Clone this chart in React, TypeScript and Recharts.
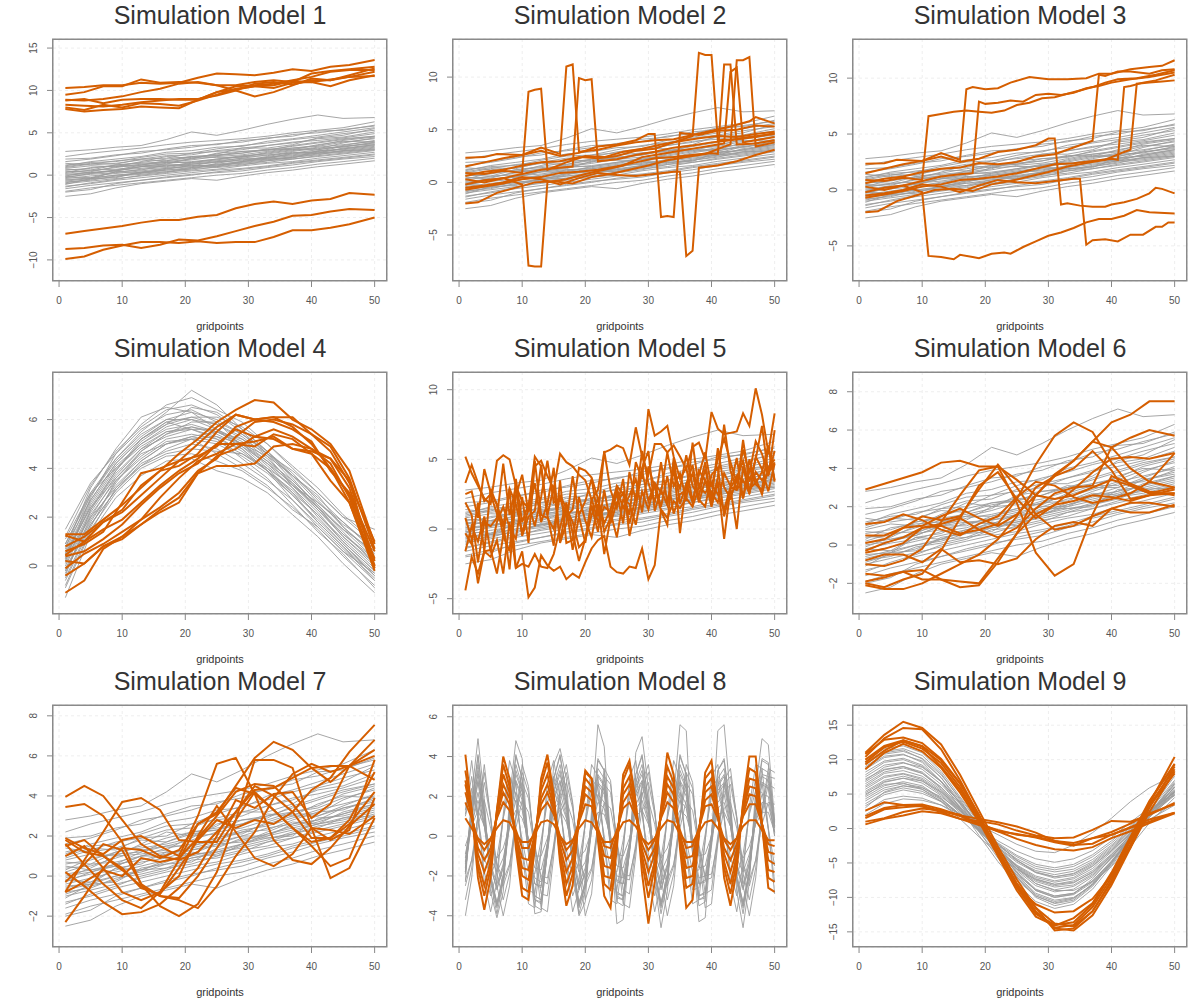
import { LineChart, Line, XAxis, YAxis, CartesianGrid } from "recharts";

// gridpoints
const gridAll = [
  1, 2, 3, 4, 5, 6, 7, 8, 9, 10, 11, 12, 13, 14, 15, 16, 17, 18, 19, 20, 21, 22, 23, 24, 25,
  26, 27, 28, 29, 30, 31, 32, 33, 34, 35, 36, 37, 38, 39, 40, 41, 42, 43, 44, 45, 46, 47, 48, 49, 50,
];
const gridSparse = [1, 5, 9, 13, 17, 21, 25, 29, 33, 37, 41, 45, 50];
const gridMid = [1, 4, 7, 10, 13, 16, 19, 22, 25, 28, 31, 34, 37, 40, 43, 46, 50];
const xTicks = [0, 10, 20, 30, 40, 50];

// grey reference curves shared by models 1, 2, 3, 5, 6, 7 (on gridSparse)
const baseGrey = [
  [2.8, 3.0, 3.3, 3.5, 4.2, 5.1, 4.7, 5.3, 6.0, 6.6, 7.1, 6.7, 6.8],
  [2.2, 2.6, 2.9, 3.2, 3.6, 3.9, 4.1, 4.3, 4.6, 5.0, 5.3, 5.6, 6.3],
  [1.6, 1.9, 2.3, 2.8, 3.0, 3.3, 3.7, 3.9, 4.4, 4.6, 5.2, 5.3, 5.9],
  [1.2, 1.5, 1.6, 2.1, 2.5, 2.6, 3.1, 3.5, 3.8, 4.2, 4.5, 4.9, 5.3],
  [0.9, 1.3, 1.7, 1.9, 2.0, 2.6, 2.8, 3.0, 3.5, 3.9, 4.1, 4.4, 4.9],
  [0.6, 0.8, 1.2, 1.5, 1.9, 2.2, 2.3, 2.8, 3.0, 3.4, 3.8, 4.2, 4.6],
  [0.4, 0.5, 0.9, 1.3, 1.5, 1.8, 2.2, 2.4, 2.8, 3.2, 3.4, 3.9, 4.3],
  [0.2, 0.6, 0.7, 1.0, 1.4, 1.6, 1.9, 2.3, 2.5, 2.9, 3.3, 3.6, 4.0],
  [0.0, 0.2, 0.6, 0.8, 1.1, 1.4, 1.7, 2.0, 2.4, 2.6, 3.0, 3.4, 3.8],
  [-0.2, 0.1, 0.3, 0.7, 0.9, 1.3, 1.5, 1.8, 2.1, 2.5, 2.8, 3.1, 3.5],
  [-0.4, -0.1, 0.2, 0.5, 0.8, 1.0, 1.3, 1.6, 2.0, 2.3, 2.6, 2.9, 3.3],
  [-0.6, -0.3, 0.0, 0.2, 0.6, 0.9, 1.2, 1.4, 1.7, 2.1, 2.5, 2.7, 3.1],
  [-0.8, -0.6, -0.1, 0.1, 0.4, 0.6, 1.0, 1.3, 1.5, 1.9, 2.2, 2.5, 2.9],
  [-1.0, -0.7, -0.4, -0.1, 0.2, 0.5, 0.7, 1.1, 1.4, 1.6, 2.0, 2.3, 2.7],
  [-1.3, -1.0, -0.6, -0.3, 0.0, 0.3, 0.6, 0.8, 1.1, 1.5, 1.8, 2.1, 2.5],
  [-1.6, -1.2, -0.9, -0.6, -0.2, 0.1, 0.3, 0.5, 0.9, 1.2, 1.6, 1.9, 2.2],
  [-1.9, -1.5, -1.2, -0.9, -0.6, -0.3, 0.0, 0.2, 0.6, 0.9, 1.3, 1.6, 2.0],
  [-2.5, -2.2, -1.5, -1.0, -0.7, -0.4, -0.6, -0.1, 0.3, 0.6, 1.0, 1.3, 1.7],
  [0.8, 1.1, 1.0, 1.6, 2.2, 2.0, 2.5, 3.2, 3.2, 3.6, 4.4, 4.7, 5.5],
  [-0.1, 0.4, 1.0, 1.1, 1.3, 2.0, 2.1, 2.1, 2.7, 3.1, 3.1, 3.8, 4.4],
  [1.4, 1.2, 1.4, 1.8, 1.7, 2.2, 2.4, 2.6, 3.1, 3.0, 3.6, 4.0, 3.9],
  [-1.1, -0.4, -0.3, 0.4, 0.6, 0.7, 1.4, 1.9, 1.9, 2.1, 2.4, 2.9, 3.0],
  [0.5, 0.3, 0.5, 1.0, 1.2, 1.3, 1.6, 1.7, 2.2, 2.7, 2.6, 3.2, 3.6],
  [-0.5, -0.4, 0.4, 0.3, 0.7, 1.2, 1.0, 1.6, 1.9, 2.0, 2.9, 3.0, 3.4],
  [1.9, 2.0, 2.4, 2.6, 3.1, 3.5, 3.6, 4.1, 4.3, 4.8, 5.0, 5.4, 5.8],
  [1.0, 1.4, 1.3, 1.9, 2.3, 2.4, 2.9, 3.2, 3.5, 3.8, 4.3, 4.5, 5.1],
  [0.3, 0.9, 1.1, 1.2, 1.7, 2.1, 2.3, 2.6, 3.0, 3.2, 3.5, 4.1, 4.5],
  [-0.3, 0.2, 0.5, 1.0, 1.0, 1.5, 1.9, 2.2, 2.3, 2.8, 3.2, 3.3, 3.9],
  [-0.7, -0.4, 0.0, 0.3, 0.8, 1.1, 1.2, 1.6, 2.1, 2.4, 2.7, 3.1, 3.6],
  [-1.4, -0.9, -0.5, 0.0, 0.3, 0.8, 0.9, 1.2, 1.7, 1.9, 2.3, 2.6, 3.0],
  [-2.0, -1.7, -1.0, -0.6, -0.3, 0.0, 0.4, 0.7, 1.0, 1.4, 1.7, 2.0, 2.4],
  [0.7, 0.6, 1.2, 1.4, 1.6, 1.9, 2.6, 2.8, 2.9, 3.5, 3.9, 4.3, 4.6],
  [0.1, 0.3, 0.6, 1.2, 1.5, 1.5, 1.8, 2.2, 2.6, 3.0, 3.0, 3.5, 4.1],
  [-0.9, -0.5, -0.2, 0.3, 0.4, 0.9, 1.1, 1.5, 1.8, 2.2, 2.6, 2.8, 3.2],
  [1.1, 1.6, 1.9, 2.2, 2.7, 2.9, 3.3, 3.4, 4.0, 4.3, 4.7, 5.1, 5.6],
  [-0.2, -0.3, 0.4, 0.6, 1.2, 1.1, 1.6, 2.0, 2.0, 2.6, 2.8, 3.4, 3.7],
];

// model 1 outliers (gridMid)
const model1Orange = [
  [10.3, 10.4, 10.6, 10.6, 10.9, 10.8, 10.9, 11.5, 12.0, 11.9, 11.8, 12.1, 12.5, 12.3, 12.8, 13.0, 13.6],
  [9.5, 9.8, 10.5, 10.5, 11.3, 10.9, 11.0, 10.9, 10.6, 10.6, 11.0, 11.2, 11.0, 12.0, 12.3, 12.5, 12.8],
  [8.9, 8.8, 9.0, 9.3, 9.8, 10.2, 10.8, 11.0, 10.6, 10.0, 9.3, 9.8, 10.6, 11.4, 11.2, 11.8, 12.6],
  [8.8, 9.0, 8.5, 8.9, 9.0, 9.0, 8.9, 8.9, 9.8, 10.5, 10.6, 10.8, 11.2, 11.6, 12.2, 12.4, 12.4],
  [8.3, 8.2, 8.1, 8.3, 8.6, 8.8, 9.0, 9.0, 9.4, 10.0, 10.8, 11.0, 10.7, 11.2, 11.2, 11.6, 12.2],
  [8.0, 7.7, 8.3, 8.0, 8.5, 8.4, 8.2, 8.8, 9.5, 10.2, 10.5, 10.3, 10.9, 11.0, 10.5, 11.2, 11.8],
  [7.8, 7.5, 7.7, 7.8, 8.1, 8.0, 7.9, 8.9, 9.8, 10.1, 10.5, 10.6, 11.1, 11.0, 11.3, 11.6, 11.7],
  [-6.9, -6.6, -6.3, -6.0, -5.6, -5.3, -5.3, -4.9, -4.7, -3.9, -3.4, -3.1, -3.4, -3.0, -2.8, -2.1, -2.3],
  [-8.7, -8.6, -8.3, -8.2, -8.6, -8.2, -7.6, -7.7, -7.2, -6.6, -6.0, -5.5, -4.8, -4.7, -4.3, -4.0, -4.1],
  [-9.9, -9.6, -8.8, -8.3, -7.9, -7.9, -8.0, -7.8, -8.0, -7.9, -7.9, -7.3, -6.5, -6.5, -6.2, -5.8, -5.0],
];

// model 2 outliers: [gridpoint, value]
const model2Orange = [
  [[1, 2.35], [4, 2.4], [6, 2.7], [10, 2.6], [13, 3.3], [16, 2.7], [17, 11.0], [18, 11.2], [19, 2.9], [22, 3.1], [25, 3.5], [28, 3.8], [31, 4.0], [34, 4.1], [37, 4.5], [40, 4.9], [43, 5.3], [46, 5.8], [47, 6.2], [50, 5.6]],
  [[1, 0.9], [4, 0.8], [7, 1.1], [10, 0.9], [11, 8.6], [12, 8.8], [13, 8.9], [14, 1.2], [17, 1.9], [20, 2.5], [23, 2.4], [26, 2.9], [29, 3.2], [32, 3.6], [35, 3.9], [38, 4.2], [41, 4.4], [44, 4.3], [47, 4.6], [50, 4.8]],
  [[1, 0.3], [4, 0.0], [7, 0.4], [10, -0.2], [11, -7.9], [12, -8.0], [13, -8.0], [14, 0.0], [17, 0.3], [20, 0.8], [23, 1.2], [26, 1.6], [29, 2.4], [32, 2.7], [35, 3.0], [38, 3.3], [41, 3.6], [42, 3.7], [43, 10.5], [44, 10.9], [45, 3.8], [47, 4.0], [50, 4.3]],
  [[1, -0.2], [4, 0.2], [7, 0.4], [10, 0.8], [13, 1.2], [16, 1.4], [18, 1.5], [19, 9.9], [20, 9.7], [21, 9.8], [22, 2.0], [25, 2.2], [28, 2.6], [31, 2.9], [34, 3.3], [37, 3.5], [40, 3.8], [43, 4.0], [46, 4.3], [50, 4.6]],
  [[1, 1.5], [4, 1.9], [7, 2.3], [10, 2.6], [13, 3.0], [16, 2.5], [19, 2.8], [22, 3.4], [25, 3.6], [28, 4.0], [30, 4.6], [31, 4.6], [32, -3.3], [33, -3.2], [34, -3.3], [35, 4.7], [38, 4.5], [41, 4.9], [44, 5.0], [47, 5.4], [50, 5.3]],
  [[1, -0.5], [4, -0.3], [7, 0.0], [10, 0.5], [13, 0.3], [16, -0.2], [19, 0.4], [22, 0.9], [25, 0.7], [28, 0.6], [31, 0.8], [34, 1.0], [35, 1.0], [36, -7.0], [37, -6.5], [38, 1.4], [41, 1.6], [44, 2.0], [47, 2.6], [50, 3.1]],
  [[1, 0.6], [4, 1.0], [7, 1.2], [10, 1.6], [13, 1.9], [16, 2.0], [19, 2.4], [22, 2.3], [25, 2.5], [28, 3.0], [31, 3.2], [34, 3.8], [37, 4.4], [38, 12.3], [39, 12.1], [40, 12.1], [41, 4.0], [44, 4.1], [47, 4.3], [50, 4.7]],
  [[1, -0.7], [4, -0.4], [7, -0.1], [10, 0.3], [13, 0.5], [16, 0.9], [19, 1.0], [22, 1.2], [25, 1.5], [28, 1.9], [31, 2.3], [34, 2.4], [37, 2.6], [40, 2.8], [41, 2.7], [42, 11.2], [43, 11.2], [44, 3.6], [47, 3.7], [50, 4.0]],
  [[1, -2.0], [3, -1.9], [6, -1.0], [9, -0.5], [12, 0.0], [15, 0.1], [18, -0.1], [21, 0.5], [24, 0.8], [27, 1.2], [30, 1.6], [33, 2.1], [36, 2.4], [39, 2.7], [42, 3.4], [43, 3.6], [44, 11.6], [45, 11.6], [46, 11.9], [47, 3.4], [50, 3.8]],
];

// model 3 outliers: [gridpoint, value]
const model3Orange = [
  [[1, 2.35], [4, 2.4], [6, 2.7], [10, 2.6], [13, 3.3], [16, 2.7], [17, 9.0], [18, 9.2], [20, 9.0], [22, 9.1], [24, 9.6], [27, 10.1], [30, 9.9], [33, 9.9], [36, 10.0], [38, 10.4], [40, 10.4], [43, 10.8], [46, 11.0], [48, 11.1], [50, 11.6]],
  [[1, 0.9], [4, 0.8], [7, 1.1], [10, 0.9], [11, 6.6], [13, 6.8], [15, 7.0], [17, 7.1], [19, 7.0], [21, 6.9], [23, 7.1], [25, 7.6], [27, 7.8], [29, 8.2], [31, 8.3], [33, 8.6], [35, 8.9], [37, 9.2], [39, 9.6], [41, 9.9], [44, 10.0], [47, 10.3], [50, 10.7]],
  [[1, 0.3], [4, 0.0], [7, 0.4], [10, -0.2], [11, -5.9], [13, -6.0], [15, -6.2], [16, -5.8], [18, -6.0], [19, -6.1], [21, -5.7], [23, -5.6], [24, -5.7], [26, -5.1], [28, -4.6], [30, -4.1], [32, -3.8], [34, -3.4], [36, -2.9], [38, -2.6], [40, -2.6], [42, -2.3], [44, -1.8], [46, -2.0], [50, -2.1]],
  [[1, -0.2], [4, 0.2], [7, 0.4], [10, 0.8], [13, 1.2], [16, 1.4], [18, 1.5], [19, 7.9], [20, 7.7], [22, 7.8], [24, 8.0], [26, 7.9], [28, 8.5], [30, 8.6], [32, 8.5], [34, 8.7], [36, 9.1], [38, 9.3], [40, 9.6], [43, 9.9], [46, 10.1], [50, 10.5]],
  [[1, 1.5], [4, 1.9], [7, 2.3], [10, 2.6], [13, 3.0], [16, 2.5], [19, 2.8], [22, 3.4], [25, 3.6], [28, 4.0], [30, 4.6], [31, 4.6], [32, -1.3], [33, -1.2], [35, -1.4], [37, -1.5], [39, -1.5], [40, -1.3], [42, -1.1], [44, -0.8], [46, -0.3], [47, 0.2], [48, 0.1], [50, -0.3]],
  [[1, -0.5], [4, -0.3], [7, 0.0], [10, 0.5], [13, 0.3], [16, -0.2], [19, 0.4], [22, 0.9], [25, 0.7], [28, 0.6], [31, 0.8], [34, 1.0], [35, 1.0], [36, -4.9], [37, -4.5], [39, -4.4], [41, -4.6], [43, -4.0], [45, -4.0], [47, -3.3], [48, -3.3], [49, -2.9], [50, -2.9]],
  [[1, 0.6], [4, 1.0], [7, 1.2], [10, 1.6], [13, 1.9], [16, 2.0], [19, 2.4], [22, 2.3], [25, 2.5], [28, 3.0], [31, 3.2], [34, 3.8], [37, 4.4], [38, 10.3], [39, 10.2], [41, 10.6], [43, 10.6], [46, 10.4], [48, 10.7], [50, 10.8]],
  [[1, -0.7], [4, -0.4], [7, -0.1], [10, 0.3], [13, 0.5], [16, 0.9], [19, 1.0], [22, 1.2], [25, 1.5], [28, 1.9], [31, 2.3], [34, 2.4], [37, 2.6], [40, 2.8], [41, 2.7], [42, 9.2], [43, 9.3], [45, 9.6], [47, 9.8], [50, 10.3]],
  [[1, -2.0], [3, -1.9], [6, -1.0], [9, -0.5], [12, 0.0], [15, 0.1], [18, -0.1], [21, 0.5], [24, 0.8], [27, 1.2], [30, 1.6], [33, 2.1], [36, 2.4], [39, 2.7], [42, 3.4], [43, 3.6], [44, 9.5], [46, 9.6], [48, 9.7], [50, 9.8]],
];

// model 4 (gridSparse grey, gridMid orange)
const model4Grey = [
  [1.5, 3.4, 4.6, 5.8, 6.6, 6.9, 6.4, 5.9, 5.0, 4.0, 3.0, 2.0, 1.5],
  [0.9, 3.0, 4.4, 5.5, 6.3, 7.2, 6.6, 5.6, 4.7, 3.7, 2.6, 1.7, 0.8],
  [0.6, 2.9, 4.3, 5.3, 6.0, 6.3, 6.0, 5.4, 4.6, 3.7, 2.9, 1.6, 0.4],
  [0.4, 2.6, 4.1, 5.0, 5.7, 6.0, 5.8, 5.3, 4.5, 3.3, 2.4, 1.5, 0.3],
  [0.3, 2.5, 4.0, 4.9, 5.5, 5.7, 5.4, 4.9, 4.2, 3.4, 2.3, 1.3, 0.2],
  [0.1, 2.2, 3.7, 4.8, 5.3, 5.6, 5.6, 5.1, 4.3, 3.5, 2.5, 1.4, 0.1],
  [0.0, 2.1, 3.5, 4.5, 5.2, 5.4, 5.2, 4.8, 3.9, 3.0, 2.1, 1.1, -0.1],
  [-0.2, 1.9, 3.3, 4.3, 5.0, 5.2, 5.0, 4.5, 3.8, 2.9, 1.9, 0.9, -0.3],
  [-0.5, 1.7, 3.1, 4.2, 4.7, 5.0, 4.8, 4.2, 3.5, 2.7, 1.7, 0.7, -0.5],
  [-0.8, 1.5, 3.0, 4.0, 4.5, 4.6, 4.3, 3.9, 3.2, 2.4, 1.5, 0.4, -0.8],
  [-1.3, 1.3, 2.8, 3.7, 4.3, 4.4, 3.9, 3.6, 3.0, 2.1, 1.2, 0.1, -1.1],
  [0.7, 3.2, 4.8, 6.1, 6.5, 6.3, 5.6, 4.8, 3.9, 2.7, 1.6, 0.6, -0.6],
  [0.2, 2.8, 4.6, 5.6, 6.2, 6.4, 5.9, 4.9, 4.0, 3.0, 1.8, 0.8, -0.4],
  [-0.4, 2.3, 3.9, 5.2, 5.9, 5.6, 5.2, 4.4, 3.6, 2.5, 1.4, 0.5, -0.9],
  [0.5, 2.4, 3.6, 4.6, 5.0, 5.3, 5.5, 5.2, 4.6, 3.9, 3.0, 2.0, 0.9],
  [-0.1, 1.8, 3.4, 4.7, 5.4, 5.9, 5.9, 5.4, 4.7, 3.8, 2.7, 1.6, 0.5],
  [1.1, 3.0, 4.0, 5.0, 5.6, 5.8, 5.5, 5.0, 4.1, 3.2, 2.2, 1.0, -0.2],
  [0.3, 2.0, 3.2, 4.1, 4.6, 4.8, 4.7, 4.6, 4.0, 3.3, 2.6, 1.8, 0.6],
  [-0.6, 1.6, 3.5, 4.4, 5.1, 5.2, 4.6, 4.0, 3.3, 2.3, 1.6, 0.6, -0.3],
  [0.8, 2.7, 4.2, 5.2, 5.8, 6.1, 6.1, 5.7, 5.0, 4.1, 3.2, 2.1, 1.0],
  [1.2, 3.3, 4.7, 5.7, 6.4, 6.6, 6.2, 5.5, 4.6, 3.5, 2.5, 1.5, 0.6],
  [0.5, 2.7, 4.2, 5.2, 5.9, 6.1, 5.8, 5.2, 4.4, 3.4, 2.4, 1.3, 0.3],
  [-0.3, 2.0, 3.6, 4.7, 5.4, 5.7, 5.5, 5.0, 4.3, 3.3, 2.3, 1.2, 0.0],
  [0.2, 2.3, 3.8, 4.8, 5.5, 5.6, 5.3, 4.7, 3.9, 2.9, 1.8, 0.8, -0.6],
  [-0.9, 1.4, 3.2, 4.3, 5.0, 5.3, 5.1, 4.6, 3.9, 3.1, 2.1, 1.0, -0.2],
  [0.9, 2.9, 4.4, 5.4, 6.0, 6.0, 5.6, 5.0, 4.2, 3.2, 2.0, 0.9, -0.4],
  [-0.2, 1.7, 3.1, 4.1, 4.8, 5.2, 5.3, 5.0, 4.5, 3.7, 2.8, 1.8, 0.7],
  [0.4, 2.4, 3.9, 5.1, 5.8, 6.5, 6.3, 5.6, 4.7, 3.6, 2.4, 1.2, 0.1],
];
const model4Orange = [
  [1.3, 1.3, 1.9, 2.5, 3.2, 3.9, 4.6, 5.2, 5.9, 6.4, 6.8, 6.7, 6.0, 5.6, 5.0, 3.9, 0.9],
  [1.25, 1.0, 1.8, 2.2, 2.9, 3.6, 4.3, 5.0, 5.7, 6.2, 6.0, 6.1, 6.1, 5.4, 4.7, 3.4, 1.0],
  [0.8, 1.2, 1.8, 2.3, 3.3, 3.9, 4.1, 4.6, 5.5, 6.2, 6.0, 6.1, 5.7, 5.0, 4.0, 2.9, 0.3],
  [0.6, 0.9, 1.4, 2.6, 3.8, 4.0, 4.3, 4.5, 4.9, 5.7, 6.0, 5.9, 5.6, 5.1, 3.9, 3.0, 0.6],
  [0.45, 1.0, 1.5, 1.9, 2.6, 3.3, 3.9, 4.4, 5.0, 5.6, 5.3, 5.6, 5.3, 4.8, 4.2, 2.8, 0.0],
  [0.4, 0.6, 1.1, 1.7, 2.5, 3.2, 3.8, 4.2, 5.0, 5.0, 4.9, 5.4, 5.2, 4.6, 4.0, 2.6, -0.2],
  [0.2, 0.1, 0.8, 1.2, 1.9, 2.4, 3.0, 3.9, 4.4, 5.3, 5.9, 6.0, 5.8, 5.4, 4.9, 3.6, 0.7],
  [-0.1, 0.5, 0.9, 1.4, 1.9, 2.8, 3.6, 4.3, 4.6, 5.0, 5.1, 5.3, 4.8, 4.7, 4.4, 3.2, 0.2],
  [-0.4, 0.1, 0.8, 1.1, 1.7, 2.3, 2.8, 3.8, 4.5, 4.8, 5.3, 5.2, 4.8, 4.6, 3.5, 2.6, 0.0],
  [-1.1, -0.6, 0.7, 1.2, 1.7, 2.2, 2.6, 3.8, 4.1, 4.1, 4.2, 4.9, 5.0, 4.8, 4.4, 3.5, -0.1],
];

// model 5 outliers (gridAll)
const model5Orange = [
  [5.2, 4.0, 3.1, 2.2, 1.8, 4.9, 5.3, 5.0, 3.1, 2.0,
    1.5, 4.5, 4.9, 3.8, 2.9, 5.4, 4.8, 4.5, 3.9, 3.5,
    2.1, 2.8, 5.5, 5.7, 6.0, 5.8, 4.6, 7.3, 5.2, 3.9,
    6.1, 6.1, 5.5, 6.0, 5.2, 4.3, 5.9, 6.2, 5.0, 8.4,
    7.2, 6.8, 6.9, 7.0, 8.3, 7.4, 10.1, 8.2, 5.5, 8.3],
  [-4.4, -2.0, -3.2, -1.6, -2.0, -0.8, -3.2, 0.5, -2.8, -1.6,
    -4.9, -4.2, -1.9, -2.6, -3.0, -2.7, -3.6, -3.2, -3.5, -2.4,
    -1.4, -0.8, -0.5, -2.7, -3.1, -3.2, -2.7, -2.8, -1.4, -3.6,
    -2.6, 1.4, 0.8, 2.0, 1.5, 2.2, 1.6, 3.0, 2.6, 3.2,
    2.5, 1.4, 3.0, 2.8, 3.5, 2.6, 4.1, 3.5, 4.0, 4.8],
  [3.3, 4.6, 3.3, 2.0, 2.5, 1.1, 0.2, 2.9, 1.8, -0.3,
    1.5, 5.2, 4.5, 1.0, 3.0, -0.9, 1.5, 0.5, -1.3, -0.8,
    1.0, 2.2, 0.4, 1.4, 3.1, 2.5, 1.0, 4.8, 3.6, 8.6,
    6.7, 7.0, 7.4, 5.2, 3.6, 4.4, 2.0, 3.9, 5.5, 3.0,
    5.0, 6.5, 4.8, 3.3, 5.7, 4.0, 6.3, 5.4, 3.8, 7.1],
  [2.5, 2.7, 0.8, 4.3, 2.6, 1.8, -0.5, -1.6, 3.6, 0.5,
    1.8, 0.2, 2.3, 4.9, 1.9, 2.2, 0.9, 1.4, 4.4, 4.2,
    3.7, 2.2, -0.2, 0.8, 2.6, 0.4, 4.1, 2.0, 5.6, 3.3,
    1.9, 4.8, 1.9, 4.1, 2.9, 5.3, 3.1, 2.4, 4.3, 2.1,
    5.8, 3.0, 2.2, 3.6, 4.9, 2.9, 3.3, 4.1, 6.0, 3.5],
  [1.9, 1.0, -2.4, 0.5, 0.2, 0.8, 4.7, 1.0, 3.0, -0.5,
    0.9, 1.3, 4.6, 1.0, -1.2, 3.5, -1.0, -0.8, 2.3, 0.6,
    -0.6, 1.8, -1.8, 0.8, 2.9, 1.5, 2.4, 3.6, 1.2, 4.5,
    3.0, 1.3, 0.3, 5.1, 1.8, 3.2, 4.6, 2.1, 1.6, 3.9,
    4.4, 0.9, 2.9, 0.0, 4.5, 2.5, 5.2, 4.3, 2.7, 4.7],
  [0.8, -0.7, -3.9, -1.6, -1.5, -3.2, -0.5, 2.9, -2.8, -2.5,
    -2.7, -1.8, -2.7, -2.8, -1.8, 0.1, 1.9, -0.3, -2.3, -0.7,
    1.7, -0.2, 2.8, 0.4, 1.9, 2.6, 0.4, 2.3, 4.4, 5.6,
    1.3, 2.8, 1.7, 4.8, -0.3, 3.3, 1.9, 4.2, 3.5, 1.6,
    3.4, -0.7, 2.9, 3.8, 2.2, 5.0, 3.2, 2.8, 5.9, 3.4],
  [-0.3, -1.1, 1.9, -1.6, 2.9, 1.7, 0.4, -2.9, 2.4, 3.9,
    1.2, 3.3, 0.5, 1.8, 4.4, -1.0, 0.4, 3.8, 1.0, 2.0,
    3.6, 0.9, 5.6, 2.8, 1.5, 3.6, -0.5, 1.6, 4.2, 2.0,
    3.3, 2.6, 5.5, 3.1, 4.0, 2.1, 6.2, 2.9, 4.8, 1.8,
    3.7, 7.5, 4.2, 2.8, 6.4, 3.4, 5.0, 7.4, 3.9, 5.6],
  [-1.6, 0.2, -0.9, 0.9, -1.6, 0.5, 1.6, 0.1, -0.7, 2.3,
    -1.0, 4.9, 1.0, 0.8, 0.0, 2.4, 1.5, -1.5, 0.9, -1.0,
    2.2, 0.5, 1.6, 1.2, -0.6, 2.1, 1.8, 0.3, 2.7, 1.4,
    3.3, 1.6, 3.8, 1.1, 2.5, 2.8, 4.0, 1.9, 3.5, 2.6,
    1.9, 4.0, 3.1, 5.1, 2.2, 4.3, 3.6, 2.5, 4.4, 5.0],
];

// model 6 outliers (gridMid)
const model6Orange = [
  [2.9, 3.2, 3.5, 3.8, 4.3, 4.4, 4.1, 4.1, 3.4, 2.6, 2.4, 2.6, 3.0, 3.4, 3.1, 2.7, 2.7],
  [0.5, 0.5, 0.9, 1.0, 1.5, 1.9, 1.4, 1.0, 1.6, 2.6, 3.6, 4.4, 5.4, 6.4, 6.8, 7.5, 7.5],
  [-0.3, 0.1, 0.4, 0.9, 1.0, 0.6, 0.8, 1.1, 2.4, 4.2, 5.7, 6.4, 5.9, 4.3, 3.1, 2.7, 3.0],
  [-1.0, -1.1, -0.8, -0.2, 1.2, 2.6, 3.9, 4.1, 2.2, -0.4, -1.6, -1.0, 1.6, 3.6, 3.2, 2.8, 2.6],
  [1.1, 1.2, 1.6, 1.3, 0.8, 0.5, 1.1, 1.5, 2.5, 3.3, 3.1, 2.5, 2.2, 2.4, 2.7, 3.3, 4.8],
  [-2.0, -2.2, -1.8, -1.5, -0.3, 1.4, 3.1, 3.8, 2.4, 1.4, 2.1, 2.9, 3.8, 4.5, 4.6, 4.5, 4.8],
  [-1.5, -1.6, -1.4, -1.8, -1.8, -1.9, -2.0, -0.7, 0.6, 2.6, 3.7, 4.4, 5.4, 5.1, 4.0, 3.3, 3.0],
  [-2.1, -2.3, -2.3, -2.0, -1.5, -1.0, -0.5, 0.3, 1.5, 3.0, 3.6, 4.0, 4.9, 3.9, 2.4, 2.6, 2.9],
  [-0.4, -0.2, 0.1, 0.9, 1.1, 1.4, 0.8, 0.4, 0.9, 1.9, 2.7, 3.0, 3.1, 5.1, 5.6, 6.0, 5.7],
  [0.1, 0.3, 0.9, 1.5, 1.3, 1.5, 2.9, 4.2, 3.0, 1.6, 0.8, 1.0, 1.5, 1.9, 1.7, 1.7, 2.1],
  [-0.8, -0.5, -0.5, -0.9, -0.2, -0.9, -0.8, -1.0, -0.7, 0.3, 1.0, 1.2, 1.0, 1.9, 2.2, 2.2, 2.0],
  [-1.9, -1.7, -1.4, -1.3, -1.8, -2.2, -2.1, -0.9, 0.6, 1.6, 2.1, 2.3, 2.6, 2.5, 2.3, 2.6, 2.7],
];

// model 7 outliers (gridMid)
const model7Orange = [
  [3.95, 4.5, 4.0, 2.8, 1.6, 1.0, 0.8, 1.2, 2.2, 3.2, 4.3, 4.4, 4.9, 5.4, 5.5, 5.5, 4.8],
  [3.45, 3.6, 3.0, 1.7, -0.4, -1.5, -2.0, -1.4, 0.2, 2.8, 5.8, 5.8, 5.4, 2.4, -0.1, 0.4, 2.9],
  [1.9, 1.4, 1.1, 1.8, 2.0, 1.5, 1.0, 3.0, 5.6, 5.9, 4.1, 1.8, 0.8, 0.6, 1.4, 2.5, 3.6],
  [-2.3, -1.0, 0.4, 1.4, 1.3, 0.9, 1.3, 2.6, 3.1, 4.5, 5.9, 6.7, 6.3, 5.4, 4.7, 5.5, 6.3],
  [1.5, 1.8, 1.0, 0.3, -0.5, -1.0, -1.1, 0.0, 1.4, 2.8, 4.2, 3.3, 2.4, 1.7, 1.9, 2.6, 4.2],
  [-0.3, 0.6, 1.6, 1.3, -0.4, -1.0, -1.2, -1.6, -0.5, 1.0, 2.2, 3.9, 5.1, 5.6, 5.2, 5.5, 6.0],
  [-0.8, 0.8, 2.2, 3.7, 3.9, 3.3, 1.8, 1.7, 1.7, 3.2, 4.5, 4.0, 3.2, 1.9, 1.9, 2.8, 5.2],
  [1.0, 1.5, 0.4, -0.8, -1.2, -0.8, 0.0, 2.0, 3.5, 2.2, 0.9, 0.5, 1.1, 2.4, 2.3, 2.1, 3.0],
  [1.8, 1.2, 1.0, 0.4, -0.6, -0.9, 0.4, 1.8, 2.8, 2.4, 2.8, 2.6, 3.2, 4.3, 4.9, 6.2, 7.55],
  [1.6, 0.6, -0.4, -1.2, -1.6, -0.8, 0.8, 2.6, 3.2, 4.4, 4.1, 3.3, 2.4, 1.5, 0.5, 0.9, 3.9],
  [0.2, -0.5, -1.3, -1.9, -1.8, -1.4, -0.6, 0.4, 2.0, 3.8, 3.4, 4.1, 4.2, 2.9, 3.6, 5.5, 6.8],
  [-0.8, -0.3, 0.3, 0.0, 0.9, 0.7, 0.9, 1.9, 3.0, 4.2, 4.6, 4.5, 3.6, 2.4, 1.8, 2.3, 5.8],
];

// model 8 (gridAll)
const model8Grey = [
  [-1.9, 1.5, 4.1, 1.3, -2.3, -3.9, -2.3, 1.3, 4.1, 2.9, -0.7, -3.5, -3.7, -0.7, 2.9, 4.1, 2.1, -1.5, -3.9, -2.7,
    0.9, 3.9, 3.3, -0.3, -3.3, -3.5, -0.7, 3.1, 4.1, 1.7, -1.9, -3.9, -2.3, 1.3, 4.1, 3.1, -0.7, -3.5, -3.3, -0.1,
    3.3, 3.9, 1.3, -2.3, -3.9, -1.9, 1.7, 3.9, 3.7, 0.5],
  [-2.3, 2.1, 4.9, 1.9, -2.8, -4.1, -2.8, 1.9, 4.8, 3.9, -0.7, -3.9, -3.8, -0.7, 3.6, 4.4, 2.9, -1.8, -4.0, -3.3,
    1.3, 5.6, 4.5, -0.2, -4.4, -4.2, -0.7, 4.2, 5.0, 2.4, -2.3, -4.6, -2.8, 1.9, 5.6, 5.3, -0.7, -4.3, -4.1, 0.0,
    5.3, 5.6, 1.9, -2.8, -4.6, -2.3, 2.4, 4.9, 4.6, 0.8],
  [-1.8, 1.1, 3.3, 0.9, -2.1, -3.5, -2.1, 0.9, 3.3, 2.3, -0.8, -3.2, -3.3, -0.8, 2.3, 3.3, 1.6, -1.5, -3.5, -2.5,
    0.6, 3.1, 2.6, -0.4, -3.0, -3.2, -0.8, 2.5, 3.3, 1.3, -1.8, -3.5, -2.1, 0.9, 3.3, 2.5, -0.8, -3.2, -3.0, -0.3,
    2.6, 3.1, 0.9, -2.1, -3.5, -1.8, 1.3, 3.1, 3.0, 0.2],
  [-1.3, 1.2, 3.1, 1.1, -1.5, -2.7, -1.5, 1.1, 3.1, 2.2, -0.4, -2.4, -2.6, -0.4, 2.2, 3.1, 1.7, -1.0, -2.7, -1.8,
    0.8, 3.0, 2.5, -0.1, -2.3, -2.4, -0.4, 2.4, 3.1, 1.4, -1.3, -2.7, -1.5, 1.1, 3.1, 2.4, -0.4, -2.4, -2.3, 0.1,
    2.5, 3.0, 1.1, -1.5, -2.7, -1.3, 1.4, 3.0, 2.8, 0.5],
  [-1.4, 0.6, 2.2, 0.5, -1.6, -2.6, -1.6, 0.5, 2.2, 1.5, -0.7, -2.4, -2.5, -0.7, 1.5, 2.2, 1.0, -1.2, -2.6, -1.9,
    0.3, 2.1, 1.7, -0.4, -2.2, -2.4, -0.7, 1.6, 2.2, 0.8, -1.4, -2.6, -1.6, 0.5, 2.2, 1.6, -0.7, -2.4, -2.2, -0.3,
    1.7, 2.1, 0.5, -1.6, -2.6, -1.4, 0.8, 2.1, 2.0, 0.0],
  [-0.9, 0.6, 1.8, 0.5, -1.1, -1.8, -1.1, 0.5, 1.8, 1.3, -0.4, -1.6, -1.7, -0.4, 1.3, 1.8, 0.9, -0.7, -1.8, -1.3,
    0.4, 1.7, 1.4, -0.2, -1.5, -1.6, -0.4, 1.4, 1.8, 0.7, -0.9, -1.8, -1.1, 0.5, 1.8, 1.4, -0.4, -1.6, -1.5, -0.1,
    1.4, 1.7, 0.5, -1.1, -1.8, -0.9, 0.7, 1.7, 1.6, 0.2],
  [-0.5, 0.5, 1.3, 0.5, -0.6, -1.1, -0.6, 0.5, 1.3, 0.9, -0.1, -1.0, -1.0, -0.1, 0.9, 1.3, 0.7, -0.4, -1.1, -0.7,
    0.3, 1.2, 1.1, 0.0, -0.9, -1.0, -0.1, 1.0, 1.3, 0.6, -0.5, -1.1, -0.6, 0.5, 1.3, 1.0, -0.1, -1.0, -0.9, 0.0,
    1.1, 1.2, 0.5, -0.6, -1.1, -0.5, 0.6, 1.2, 1.2, 0.2],
  [1.1, 3.0, 0.9, -1.8, -3.0, -1.8, 0.9, 3.0, 2.1, -0.6, -2.7, -2.9, -0.6, 2.1, 3.0, 1.5, -1.2, -3.0, -2.1, 0.6,
    2.9, 2.4, -0.3, -2.6, -2.7, -0.6, 2.3, 3.0, 1.2, -1.5, -3.0, -1.8, 0.9, 3.0, 2.3, -0.6, -2.7, -2.6, -0.2, 2.4,
    2.9, 0.9, -1.8, -3.0, -1.5, 1.2, 2.9, 2.7, 0.3, -2.3],
  [1.0, 2.4, 0.9, -1.1, -2.0, -1.1, 0.9, 2.4, 1.7, -0.2, -1.8, -1.9, -0.2, 1.7, 2.4, 1.3, -0.7, -2.0, -1.3, 0.6,
    2.3, 2.0, 0.0, -1.7, -1.8, -0.2, 1.9, 2.4, 1.1, -0.9, -2.0, -1.1, 0.9, 2.4, 1.9, -0.2, -1.8, -1.7, 0.1, 2.0,
    2.3, 0.9, -1.1, -2.0, -0.9, 1.1, 2.3, 2.2, 0.4, -1.5],
  [-3.2, -1.6, 1.1, 3.2, 1.0, -1.9, -3.2, -1.9, 1.0, 3.2, 2.2, -0.6, -2.9, -3.0, -0.6, 2.2, 3.2, 1.6, -1.3, -3.2,
    -2.2, 0.6, 3.0, 2.6, -0.3, -2.7, -2.9, -0.6, 2.4, 3.2, 1.3, -1.6, -3.2, -1.9, 1.0, 3.2, 2.4, -0.6, -2.9, -2.7,
    -0.2, 2.6, 3.0, 1.0, -1.9, -3.2, -1.6, 1.3, 3.0, 2.9],
  [-2.2, -1.2, 0.5, 1.8, 0.4, -1.4, -2.2, -1.4, 0.4, 1.8, 1.2, -0.6, -2.0, -2.1, -0.6, 1.2, 1.8, 0.8, -1.0, -2.2,
    -1.6, 0.2, 1.7, 1.4, -0.4, -1.9, -2.0, -0.6, 1.3, 1.8, 0.6, -1.2, -2.2, -1.4, 0.4, 1.8, 1.3, -0.6, -2.0, -1.9,
    -0.3, 1.4, 1.7, 0.4, -1.4, -2.2, -1.2, 0.6, 1.7, 1.6],
  [-1.6, 1.6, 4.0, 1.4, -1.9, -3.4, -1.9, 1.4, 4.0, 2.9, -0.4, -3.0, -3.2, -0.4, 2.9, 4.0, 2.2, -1.2, -3.4, -2.3,
    1.0, 3.8, 3.3, -0.1, -2.8, -3.0, -0.4, 3.1, 4.0, 1.8, -1.6, -3.4, -1.9, 1.4, 4.0, 3.1, -0.4, -3.0, -2.8, 0.1,
    3.3, 3.8, 1.4, -1.9, -3.4, -1.6, 1.8, 3.8, 3.6, 0.7],
  [-1.8, 1.3, 3.6, 1.1, -2.2, -3.6, -2.2, 1.1, 3.6, 2.5, -0.7, -3.2, -3.4, -0.7, 2.5, 3.6, 1.8, -1.4, -3.6, -2.5,
    0.7, 3.4, 2.9, -0.4, -3.1, -3.2, -0.7, 2.7, 3.6, 1.4, -1.8, -3.6, -2.2, 1.1, 3.6, 2.7, -0.7, -3.2, -3.1, -0.2,
    2.9, 3.4, 1.1, -2.2, -3.6, -1.8, 1.4, 3.4, 3.2, 0.4],
  [-1.1, 1.1, 2.8, 1.0, -1.4, -2.4, -1.4, 1.0, 2.8, 2.0, -0.3, -2.1, -2.3, -0.3, 2.0, 2.8, 1.5, -0.8, -2.4, -1.6,
    0.7, 2.7, 2.3, -0.1, -2.0, -2.1, -0.3, 2.2, 2.8, 1.2, -1.1, -2.4, -1.4, 1.0, 2.8, 2.2, -0.3, -2.1, -2.0, 0.1,
    2.3, 2.7, 1.0, -1.4, -2.4, -1.1, 1.2, 2.7, 2.5, 0.5],
  [-2.5, -1.2, 1.0, 2.7, 0.9, -1.5, -2.5, -1.5, 0.9, 2.7, 1.9, -0.4, -2.2, -2.4, -0.4, 1.9, 2.7, 1.4, -0.9, -2.5,
    -1.7, 0.6, 2.6, 2.2, -0.2, -2.1, -2.2, -0.4, 2.1, 2.7, 1.1, -1.2, -2.5, -1.5, 0.9, 2.7, 2.1, -0.4, -2.2, -2.1,
    0.0, 2.2, 2.6, 0.9, -1.5, -2.5, -1.2, 1.1, 2.6, 2.4],
  [1.3, 3.8, 1.1, -2.3, -3.8, -2.3, 1.1, 3.8, 2.7, -0.8, -3.4, -3.6, -0.8, 2.7, 3.8, 1.9, -1.5, -3.8, -2.7, 0.8,
    3.6, 3.0, -0.4, -3.2, -3.4, -0.8, 2.9, 3.8, 1.5, -1.9, -3.8, -2.3, 1.1, 3.8, 2.9, -0.8, -3.4, -3.2, -0.2, 3.0,
    3.6, 1.1, -2.3, -3.8, -1.9, 1.5, 3.6, 3.4, 0.4, -2.9],
  [-1.8, 0.8, 2.7, 0.6, -2.1, -3.3, -2.1, 0.6, 2.7, 1.8, -0.9, -3.0, -3.2, -0.9, 1.8, 2.7, 1.2, -1.5, -3.3, -2.4,
    0.3, 2.6, 2.1, -0.6, -2.9, -3.0, -0.9, 2.0, 2.7, 0.9, -1.8, -3.3, -2.1, 0.6, 2.7, 2.0, -0.9, -3.0, -2.9, -0.5,
    2.1, 2.6, 0.6, -2.1, -3.3, -1.8, 0.9, 2.6, 2.4, 0.0],
  [-4.0, -2.1, 1.1, 3.6, 0.9, -2.5, -4.0, -2.5, 0.9, 3.6, 2.5, -1.0, -3.6, -3.8, -1.0, 2.5, 3.6, 1.7, -1.7, -4.0,
    -2.9, 0.6, 3.4, 2.8, -0.6, -3.4, -3.6, -1.0, 2.7, 3.6, 1.3, -2.1, -4.0, -2.5, 0.9, 3.6, 2.7, -1.0, -3.6, -3.4,
    -0.4, 2.8, 3.4, 0.9, -2.5, -4.0, -2.1, 1.3, 3.4, 3.2],
];
const model8Orange = [
  [4.1, 1.3, -2.1, -3.7, -2.1, 1.3, 4.0, 2.9, -0.6, -3.0, -3.2, -0.6, 2.9, 4.1, 2.1, -1.3, -3.5, -2.5, 1.0, 3.3,
    2.9, -0.2, -3.0, -3.6, -0.6, 3.1, 3.8, 1.7, -1.9, -4.4, -2.3, 1.4, 4.2, 3.1, -0.6, -3.6, -3.2, 0.0, 3.2, 3.8,
    1.3, -2.1, -3.5, -1.7, 1.7, 4.0, 4.0, 0.6, -2.6, -2.8],
  [3.3, 1.3, -1.6, -3.0, -1.6, 1.3, 3.6, 2.5, -0.3, -2.6, -2.8, -0.3, 2.6, 3.7, 1.9, -1.0, -3.0, -1.9, 0.9, 3.2,
    2.9, 0.0, -2.4, -2.7, -0.3, 2.8, 3.6, 1.6, -1.3, -3.1, -1.6, 1.3, 3.5, 2.7, -0.3, -2.6, -2.4, 0.1, 2.9, 3.3,
    1.3, -1.6, -2.9, -1.3, 1.6, 3.4, 3.2, 0.6, -2.1, -2.3],
  [2.8, 1.2, -1.3, -2.5, -1.3, 1.2, 3.1, 2.2, -0.2, -2.0, -2.2, -0.2, 2.3, 3.1, 1.7, -0.7, -2.4, -1.5, 0.9, 2.9,
    2.5, 0.1, -2.0, -2.1, -0.2, 2.4, 3.0, 1.4, -1.0, -2.5, -1.3, 1.2, 3.0, 2.4, -0.2, -2.1, -2.0, 0.2, 2.5, 2.9,
    1.2, -1.3, -2.4, -1.0, 1.4, 2.9, 2.8, 0.6, -1.7, -1.8],
  [2.6, 1.1, -0.9, -1.8, -0.9, 1.1, 2.6, 1.9, 0.0, -1.6, -1.7, 0.0, 1.9, 2.6, 1.5, -0.5, -1.8, -1.1, 0.8, 2.5,
    2.2, 0.2, -1.5, -1.6, 0.0, 2.1, 2.6, 1.3, -0.7, -1.8, -0.9, 1.1, 2.6, 2.1, 0.0, -1.6, -1.5, 0.3, 2.2, 2.5,
    1.1, -0.9, -1.8, -0.7, 1.3, 2.5, 2.4, 0.6, -1.2, -1.4],
  [2.2, 1.0, -0.6, -1.2, -0.6, 1.0, 2.2, 1.6, 0.1, -1.1, -1.2, 0.1, 1.6, 2.2, 1.3, -0.2, -1.2, -0.7, 0.8, 2.1,
    1.8, 0.3, -1.0, -1.1, 0.1, 1.7, 2.2, 1.1, -0.4, -1.2, -0.6, 1.0, 2.2, 1.7, 0.1, -1.1, -1.0, 0.4, 1.8, 2.1,
    1.0, -0.6, -1.2, -0.4, 1.1, 2.1, 2.0, 0.6, -0.8, -0.9],
  [1.7, 0.9, -0.2, -0.7, -0.2, 0.9, 1.7, 1.3, 0.3, -0.6, -0.6, 0.3, 1.3, 1.7, 1.1, 0.0, -0.7, -0.3, 0.7, 1.6,
    1.5, 0.4, -0.5, -0.6, 0.3, 1.4, 1.7, 1.0, -0.1, -0.7, -0.2, 0.9, 1.7, 1.4, 0.3, -0.6, -0.5, 0.4, 1.5, 1.6,
    0.9, -0.2, -0.7, -0.1, 1.0, 1.6, 1.6, 0.6, -0.4, -0.5],
  [0.9, 0.4, -0.1, -0.4, -0.1, 0.4, 0.8, 0.7, 0.1, -0.3, -0.3, 0.1, 0.7, 0.8, 0.6, 0.0, -0.4, -0.2, 0.4, 0.8,
    0.7, 0.2, -0.3, -0.3, 0.1, 0.7, 0.8, 0.5, -0.1, -0.4, -0.1, 0.4, 0.8, 0.7, 0.1, -0.3, -0.3, 0.2, 0.7, 0.8,
    0.4, -0.1, -0.4, -0.1, 0.5, 0.8, 0.8, 0.3, -0.2, -0.2],
];

// model 9 (gridMid)
const model9Grey = [
  [10.0, 11.6, 12.0, 11.0, 8.3, 4.6, 1.0, -3.0, -6.5, -9.0, -10.0, -9.5, -7.3, -4.2, -0.8, 2.6, 7.0],
  [9.0, 10.8, 11.2, 10.2, 7.8, 4.4, 0.8, -3.4, -7.0, -10.0, -11.2, -10.6, -8.4, -5.0, -1.4, 2.6, 7.6],
  [8.2, 9.8, 10.2, 9.2, 6.9, 3.8, 0.4, -3.4, -6.8, -9.4, -10.4, -10.0, -8.2, -5.2, -1.6, 2.0, 6.6],
  [7.5, 9.2, 9.6, 8.6, 6.4, 3.5, 0.3, -3.2, -6.3, -8.8, -9.8, -9.4, -7.6, -4.7, -1.3, 2.1, 6.0],
  [6.8, 8.5, 9.0, 8.2, 6.0, 3.1, 0.0, -3.3, -6.1, -8.3, -9.2, -8.8, -7.0, -4.4, -1.3, 1.8, 5.4],
  [6.2, 8.0, 8.4, 7.6, 5.6, 2.9, -0.1, -3.1, -5.8, -7.7, -8.5, -8.2, -6.6, -4.0, -1.2, 1.6, 5.0],
  [5.7, 7.4, 7.9, 7.1, 5.2, 2.6, -0.2, -3.0, -5.5, -7.3, -8.1, -7.6, -6.1, -3.7, -1.0, 1.8, 4.8],
  [5.2, 6.8, 7.3, 6.6, 4.8, 2.3, -0.4, -3.1, -5.3, -6.9, -7.6, -7.1, -5.5, -3.2, -0.6, 2.2, 5.2],
  [4.6, 6.2, 6.8, 6.2, 4.4, 2.0, -0.3, -2.8, -4.9, -6.4, -7.0, -6.5, -5.0, -2.8, -0.3, 2.4, 5.3],
  [4.0, 5.6, 6.2, 5.7, 4.2, 2.1, -0.2, -2.5, -4.4, -5.8, -6.3, -5.9, -4.5, -2.4, 0.0, 2.5, 5.6],
  [3.3, 4.9, 5.6, 5.1, 3.9, 2.0, 0.0, -2.1, -3.9, -5.2, -5.7, -5.2, -3.8, -1.8, 0.4, 2.6, 5.2],
  [2.5, 4.2, 4.7, 4.4, 3.4, 1.8, 0.0, -1.8, -3.3, -4.4, -4.9, -4.4, -3.2, -1.3, 0.9, 3.0, 4.8],
  [2.0, 3.6, 4.3, 4.1, 3.4, 2.1, 0.5, -0.9, -2.3, -3.3, -3.5, -2.4, -0.6, 1.5, 3.9, 5.9, 7.8],
  [8.8, 10.5, 10.8, 9.6, 6.8, 3.0, -1.0, -4.8, -8.0, -10.6, -11.6, -11.0, -8.8, -5.4, -1.8, 1.8, 6.0],
  [7.0, 8.9, 9.5, 8.9, 6.8, 3.8, 0.7, -2.6, -5.6, -8.0, -9.0, -9.0, -7.7, -5.5, -2.6, 0.8, 4.5],
  [5.0, 6.4, 6.6, 5.7, 3.9, 1.4, -1.2, -3.7, -5.9, -7.4, -8.1, -7.8, -6.4, -4.0, -1.4, 1.2, 3.8],
  [3.0, 5.3, 6.2, 5.9, 4.6, 2.6, 0.2, -2.3, -4.6, -6.4, -7.2, -6.8, -5.4, -3.2, -0.8, 1.3, 3.4],
  [9.4, 11.0, 11.4, 10.1, 7.4, 3.6, -0.4, -4.3, -7.5, -9.8, -10.8, -10.2, -8.0, -4.8, -1.2, 2.3, 6.4],
  [9.6, 11.2, 11.6, 10.6, 8.0, 4.2, 0.2, -3.8, -7.2, -9.8, -10.9, -10.4, -8.2, -5.0, -1.4, 2.2, 6.8],
  [8.6, 10.3, 10.7, 9.8, 7.4, 4.0, 0.4, -3.6, -7.0, -9.6, -10.6, -10.1, -8.1, -5.0, -1.5, 2.1, 6.4],
  [7.8, 9.6, 10.0, 9.0, 6.8, 3.7, 0.4, -3.2, -6.4, -9.0, -10.0, -9.6, -7.8, -4.8, -1.4, 2.0, 6.1],
  [6.5, 8.2, 8.8, 8.0, 6.0, 3.2, 0.2, -3.0, -5.9, -8.0, -8.9, -8.4, -6.8, -4.2, -1.2, 1.9, 5.3],
  [6.0, 7.6, 8.0, 7.3, 5.4, 2.7, -0.2, -3.2, -5.6, -7.5, -8.3, -7.9, -6.3, -3.8, -1.0, 1.9, 5.0],
  [5.4, 7.0, 7.6, 6.9, 5.0, 2.5, -0.3, -3.0, -5.4, -7.1, -7.8, -7.3, -5.8, -3.4, -0.7, 2.0, 5.0],
  [4.3, 5.9, 6.5, 6.0, 4.3, 2.0, -0.3, -2.7, -4.7, -6.1, -6.7, -6.2, -4.8, -2.6, -0.2, 2.4, 5.4],
  [3.6, 5.2, 5.9, 5.4, 4.0, 2.0, -0.1, -2.3, -4.1, -5.5, -6.0, -5.5, -4.1, -2.1, 0.2, 2.5, 5.3],
  [7.2, 8.6, 9.0, 8.0, 5.8, 2.8, -0.5, -3.8, -6.7, -8.9, -9.8, -9.4, -7.6, -4.8, -1.6, 1.6, 5.6],
  [4.8, 6.7, 7.3, 6.9, 5.3, 3.0, 0.4, -2.2, -4.6, -6.3, -7.0, -6.6, -5.2, -3.0, -0.4, 2.3, 5.9],
];
const model9Orange = [
  [11.0, 13.6, 15.5, 14.6, 12.2, 7.8, 2.6, -2.6, -7.4, -11.5, -14.8, -14.5, -12.0, -7.5, -2.3, 3.6, 10.4],
  [10.4, 13.1, 14.6, 14.4, 11.5, 7.0, 1.9, -3.4, -8.3, -12.2, -14.4, -14.0, -11.4, -7.1, -1.8, 3.9, 9.3],
  [10.0, 12.0, 12.8, 12.0, 9.9, 6.5, 2.0, -3.2, -8.0, -11.5, -13.8, -14.2, -12.0, -7.8, -2.4, 3.0, 9.0],
  [9.6, 11.8, 12.6, 11.6, 9.5, 6.0, 1.5, -3.5, -8.6, -12.4, -14.0, -13.6, -11.0, -6.6, -1.6, 3.4, 8.6],
  [9.3, 11.3, 12.8, 11.9, 9.0, 5.6, 1.4, -3.6, -8.4, -11.0, -12.2, -12.0, -10.2, -6.8, -2.8, 2.4, 8.3],
  [8.6, 11.0, 12.3, 11.2, 8.8, 5.2, 1.0, -4.0, -9.0, -12.8, -14.1, -13.0, -10.8, -6.4, -1.2, 4.0, 9.4],
  [10.8, 12.9, 13.2, 12.4, 10.1, 6.6, 1.8, -3.2, -8.0, -12.0, -14.5, -14.8, -12.6, -8.2, -2.8, 3.2, 8.0],
  [2.6, 3.8, 3.4, 3.2, 2.4, 1.4, 1.1, 0.6, -0.3, -1.0, -1.4, -1.3, -0.2, 1.1, 1.0, 2.0, 3.7],
  [1.8, 3.0, 3.4, 3.5, 2.8, 1.9, 1.4, 0.9, 0.3, -0.6, -1.8, -2.1, -1.4, -0.5, 0.7, 2.2, 3.5],
  [1.5, 2.8, 3.1, 3.3, 2.5, 2.0, 0.6, -0.2, -0.9, -1.2, -1.8, -2.4, -2.2, -0.9, 0.1, 1.0, 2.3],
  [1.0, 1.5, 2.4, 2.9, 2.6, 1.8, 0.8, -0.4, -1.5, -2.4, -3.0, -3.2, -2.7, -1.4, -0.4, 0.8, 2.2],
  [0.6, 1.4, 1.9, 2.5, 2.2, 1.4, 0.5, -0.4, -0.8, -1.3, -2.0, -2.5, -1.4, -0.9, 0.2, 1.3, 2.3],
];

type Pt = { x: number; y: number };
const zip = (xs: number[], ys: number[]): Pt[] =>
  ys.slice(0, xs.length).map((y, i) => ({ x: xs[i], y }));
const fromPairs = (pairs: number[][]): Pt[] => pairs.map(([x, y]) => ({ x, y }));

const GREY = "#9c9c9c";
const ORANGE = "#D55E00";

const panels = [
  { title: "Simulation Model 1", yDomain: [-12.49, 16.07], yTicks: [-10, -5, 0, 5, 10, 15],
    grey: baseGrey.map((ys) => zip(gridSparse, ys)), orange: model1Orange.map((ys) => zip(gridMid, ys)) },
  { title: "Simulation Model 2", yDomain: [-9.37, 13.62], yTicks: [-5, 0, 5, 10],
    grey: baseGrey.map((ys) => zip(gridSparse, ys)), orange: model2Orange.map(fromPairs) },
  { title: "Simulation Model 3", yDomain: [-8.14, 13.5], yTicks: [-5, 0, 5, 10],
    grey: baseGrey.map((ys) => zip(gridSparse, ys)), orange: model3Orange.map(fromPairs) },
  { title: "Simulation Model 4", yDomain: [-1.97, 7.95], yTicks: [0, 2, 4, 6],
    grey: model4Grey.map((ys) => zip(gridSparse, ys)), orange: model4Orange.map((ys) => zip(gridMid, ys)) },
  { title: "Simulation Model 5", yDomain: [-6.1, 11.27], yTicks: [-5, 0, 5, 10],
    grey: baseGrey.map((ys) => zip(gridSparse, ys)), orange: model5Orange.map((ys) => zip(gridAll, ys)) },
  { title: "Simulation Model 6", yDomain: [-3.6, 9.03], yTicks: [-2, 0, 2, 4, 6, 8],
    grey: baseGrey.map((ys) => zip(gridSparse, ys)), orange: model6Orange.map((ys) => zip(gridMid, ys)) },
  { title: "Simulation Model 7", yDomain: [-3.54, 8.54], yTicks: [-2, 0, 2, 4, 6, 8],
    grey: baseGrey.map((ys) => zip(gridSparse, ys)), orange: model7Orange.map((ys) => zip(gridMid, ys)) },
  { title: "Simulation Model 8", yDomain: [-5.57, 6.59], yTicks: [-4, -2, 0, 2, 4, 6],
    grey: model8Grey.map((ys) => zip(gridAll, ys)), orange: model8Orange.map((ys) => zip(gridAll, ys)) },
  { title: "Simulation Model 9", yDomain: [-17.2, 17.93], yTicks: [-15, -10, -5, 0, 5, 10, 15],
    grey: model9Grey.map((ys) => zip(gridMid, ys)), orange: model9Orange.map((ys) => zip(gridMid, ys)) },
];

const fmt = (v: number) => (v < 0 ? "\u2212" + Math.abs(v) : String(v));

const renderYTick = (props: any) => {
  const { x, y, payload } = props;
  return (
    <text x={x} y={y} transform={`rotate(-90 ${x} ${y})`} textAnchor="middle" fontSize={10} fill="#555">
      {fmt(payload.value)}
    </text>
  );
};

const Panel = ({ p, left, top }: { p: (typeof panels)[number]; left: number; top: number }) => (
  <div style={{ position: "absolute", left, top, width: 400, height: 333 }}>
    <div
      style={{ position: "absolute", left: 53, width: 334, top: 3, textAlign: "center",
        fontSize: 25, lineHeight: "25px", color: "#333", whiteSpace: "nowrap" }}
    >
      {p.title}
    </div>
    <LineChart width={400} height={333} margin={{ top: 39, right: 13, bottom: 0, left: 0 }}>
      <CartesianGrid stroke="#eeeeee" strokeDasharray="3 3" />
      <XAxis type="number" dataKey="x" domain={[-0.96, 51.96]} ticks={xTicks} allowDataOverflow
        interval={0} height={52} tickSize={6} tickMargin={10} axisLine={false}
        tickLine={{ stroke: "#888" }} tick={{ fontSize: 10, fill: "#555" }} />
      <YAxis type="number" domain={p.yDomain} ticks={p.yTicks} allowDataOverflow interval={0}
        width={53} tickSize={6} tickMargin={10} axisLine={false}
        tickLine={{ stroke: "#888" }} tick={renderYTick} />
      {p.grey.map((pts, i) => (
        <Line key={"g" + i} data={pts} dataKey="y" type="linear" stroke={GREY} strokeWidth={0.9}
          dot={false} activeDot={false} isAnimationActive={false} />
      ))}
      {p.orange.map((pts, i) => (
        <Line key={"o" + i} data={pts} dataKey="y" type="linear" stroke={ORANGE} strokeWidth={2}
          dot={false} activeDot={false} isAnimationActive={false} />
      ))}
    </LineChart>
    <svg width={400} height={333} style={{ position: "absolute", left: 0, top: 0, pointerEvents: "none" }}>
      <rect x={52.75} y={39.25} width={334} height={241.5} fill="none" stroke="#8a8a8a" strokeWidth={1.5} />
    </svg>
    <div
      style={{ position: "absolute", left: 53, width: 334, top: 321, textAlign: "center",
        fontSize: 11, lineHeight: "11px", color: "#333" }}
    >
      gridpoints
    </div>
  </div>
);

export default function App() {
  return (
    <div
      style={{ position: "absolute", left: 0, top: 0, width: 1200, height: 1000, background: "#fff",
        fontFamily: "'Liberation Sans', Arial, sans-serif" }}
    >
      {panels.map((p, i) => (
        <Panel key={p.title} p={p} left={(i % 3) * 400} top={Math.floor(i / 3) * 333} />
      ))}
    </div>
  );
}
